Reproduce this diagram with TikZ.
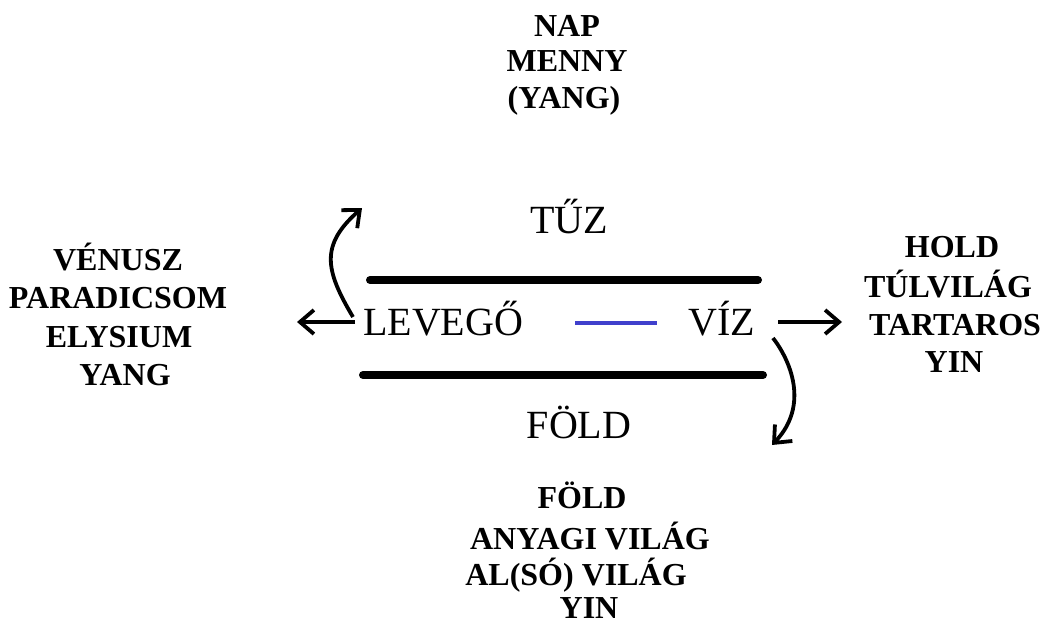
\documentclass[tikz,border=0pt]{standalone}
\usepackage{fontspec}
\setmainfont{Liberation Serif}
\usetikzlibrary{arrows.meta}
\begin{document}
\begin{tikzpicture}[x=1pt,y=-1pt,
  lab/.style={font=\bfseries\fontsize{32}{37}\selectfont, anchor=base, inner sep=0pt},
  big/.style={font=\fontsize{40}{46}\selectfont, anchor=base, inner sep=0pt},
  bar/.style={line width=8pt, line cap=round},
  arr/.style={line width=3.8pt, -{Straight Barb[length=14pt,width=24pt,line width=3.8pt]}}]
\useasboundingbox (0,0) rectangle (1047,626);
% top block
\node[lab] (nap) at (567,37) {NAP};
\node[lab] (menny) at (567,72) {MENNY};
\node[lab] (yangT) at (564,108) {(YANG)};
% left block
\node[lab] (venusz) at (118,270) {VÉNUSZ};
\node[lab] (parad) at (118,308) {PARADICSOM};
\node[lab] (elys) at (119,347) {ELYSIUM};
\node[lab] (yangL) at (125,385) {YANG};
% right block
\node[lab] (hold) at (952,257) {HOLD};
\node[lab] (tulv) at (948,297) {TÚLVILÁG};
\node[lab] (tart) at (955,335) {TARTAROS};
\node[lab] (yinR) at (954,372) {YIN};
% bottom block
\node[lab] (foldB) at (582,508) {FÖLD};
\node[lab] (anyagi) at (590,549) {ANYAGI VILÁG};
\node[lab] (also) at (576,585) {AL(SÓ) VILÁG};
\node[lab] (yinB) at (589,618) {YIN};
% central elements
\node[big] (tuz) at (569,233) {TŰZ};
\node[big, anchor=base west] (levego) at (363,335) {LEVEGŐ};
\node[big, anchor=base east] (viz) at (755,335) {VÍZ};
\node[big] (fold) at (579,438) {FÖLD};
% bars
\coordinate (b1a) at (370,280); \coordinate (b1b) at (758,280);
\coordinate (b2a) at (363,375); \coordinate (b2b) at (763,375);
\draw[bar] (b1a) -- (b1b);
\draw[bar] (b2a) -- (b2b);
% blue dash
\coordinate (d1) at (575,323); \coordinate (d2) at (657,323);
\draw[line width=4.5pt, color={rgb,255:red,64;green,64;blue,204}] (d1) -- (d2);
% arrows
\coordinate (lS) at (355,322); \coordinate (lE) at (297,322);
\draw[arr] (lS) -- (lE);
\coordinate (uS) at (353,317); \coordinate (uE) at (362,208);
\draw[arr] (uS) .. controls (325,270) and (320,245) .. (uE);
\coordinate (rS) at (778,322); \coordinate (rE) at (842,322);
\draw[arr] (rS) -- (rE);
\coordinate (dS) at (773,338); \coordinate (dE) at (772,445);
\draw[arr] (dS) .. controls (790,360) and (810,405) .. (dE);
\end{tikzpicture}
\end{document}
